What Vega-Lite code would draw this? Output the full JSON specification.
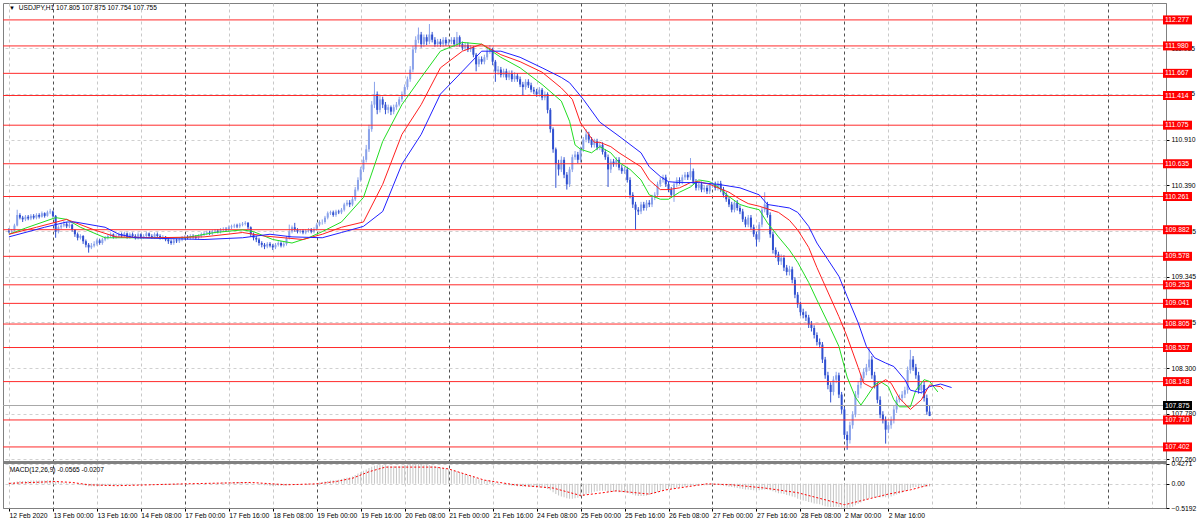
{
"$schema":"https://vega.github.io/schema/vega-lite/v6.json",
"autosize":"none",
"padding":{"left":3,"top":3,"right":34,"bottom":16},
"background":"white",
"width":1163,"height":505,
"config":{"view":{"stroke":"#808080","strokeWidth":1},"font":"Liberation Sans","axis":{"labelFont":"Liberation Sans","labelFontSize":6.8,"labelColor":"#000000","title":null}},
"datasets":{
"bars":[
{"i":0,"o":109.87,"h":109.90,"l":109.84,"c":109.86,"m":0.03},
{"i":1,"o":109.86,"h":109.89,"l":109.84,"c":109.87,"m":0.03},
{"i":2,"o":109.87,"h":109.95,"l":109.86,"c":109.93,"m":0.04},
{"i":3,"o":109.93,"h":110.11,"l":109.92,"c":110.05,"m":0.05},
{"i":4,"o":110.05,"h":110.07,"l":110.00,"c":110.02,"m":0.06},
{"i":5,"o":110.02,"h":110.04,"l":109.97,"c":110.00,"m":0.06},
{"i":6,"o":110.00,"h":110.05,"l":109.98,"c":110.03,"m":0.06},
{"i":7,"o":110.03,"h":110.05,"l":109.99,"c":110.01,"m":0.06},
{"i":8,"o":110.01,"h":110.06,"l":109.99,"c":110.04,"m":0.07},
{"i":9,"o":110.04,"h":110.06,"l":110.00,"c":110.02,"m":0.07},
{"i":10,"o":110.02,"h":110.07,"l":110.00,"c":110.05,"m":0.07},
{"i":11,"o":110.05,"h":110.07,"l":110.01,"c":110.03,"m":0.07},
{"i":12,"o":110.03,"h":110.09,"l":110.02,"c":110.07,"m":0.07},
{"i":13,"o":110.07,"h":110.08,"l":110.02,"c":110.04,"m":0.07},
{"i":14,"o":110.04,"h":110.10,"l":110.03,"c":110.08,"m":0.08},
{"i":15,"o":110.08,"h":110.12,"l":110.06,"c":110.09,"m":0.08},
{"i":16,"o":110.09,"h":110.10,"l":110.02,"c":110.04,"m":0.07},
{"i":17,"o":110.04,"h":110.05,"l":109.79,"c":109.86,"m":0.05},
{"i":18,"o":109.86,"h":109.93,"l":109.84,"c":109.91,"m":0.04},
{"i":19,"o":109.91,"h":109.96,"l":109.89,"c":109.93,"m":0.03},
{"i":20,"o":109.93,"h":109.98,"l":109.91,"c":109.95,"m":0.03},
{"i":21,"o":109.95,"h":109.97,"l":109.90,"c":109.92,"m":0.02},
{"i":22,"o":109.92,"h":109.96,"l":109.90,"c":109.94,"m":0.02},
{"i":23,"o":109.94,"h":109.95,"l":109.86,"c":109.88,"m":0.01},
{"i":24,"o":109.88,"h":109.89,"l":109.80,"c":109.83,"m":0.0},
{"i":25,"o":109.83,"h":109.85,"l":109.76,"c":109.79,"m":-0.01},
{"i":26,"o":109.79,"h":109.83,"l":109.77,"c":109.81,"m":-0.02},
{"i":27,"o":109.81,"h":109.82,"l":109.72,"c":109.75,"m":-0.03},
{"i":28,"o":109.75,"h":109.77,"l":109.68,"c":109.71,"m":-0.04},
{"i":29,"o":109.71,"h":109.73,"l":109.62,"c":109.68,"m":-0.05},
{"i":30,"o":109.68,"h":109.73,"l":109.66,"c":109.70,"m":-0.05},
{"i":31,"o":109.70,"h":109.75,"l":109.68,"c":109.72,"m":-0.05},
{"i":32,"o":109.72,"h":109.78,"l":109.70,"c":109.76,"m":-0.05},
{"i":33,"o":109.76,"h":109.78,"l":109.71,"c":109.73,"m":-0.05},
{"i":34,"o":109.73,"h":109.79,"l":109.71,"c":109.77,"m":-0.04},
{"i":35,"o":109.77,"h":109.81,"l":109.75,"c":109.79,"m":-0.04},
{"i":36,"o":109.79,"h":109.83,"l":109.77,"c":109.81,"m":-0.03},
{"i":37,"o":109.81,"h":109.85,"l":109.79,"c":109.83,"m":-0.03},
{"i":38,"o":109.83,"h":109.84,"l":109.78,"c":109.80,"m":-0.03},
{"i":39,"o":109.80,"h":109.83,"l":109.78,"c":109.81,"m":-0.02},
{"i":40,"o":109.81,"h":109.85,"l":109.79,"c":109.83,"m":-0.02},
{"i":41,"o":109.83,"h":109.85,"l":109.79,"c":109.81,"m":-0.02},
{"i":42,"o":109.81,"h":109.86,"l":109.79,"c":109.84,"m":-0.01},
{"i":43,"o":109.84,"h":109.85,"l":109.78,"c":109.80,"m":-0.01},
{"i":44,"o":109.80,"h":109.85,"l":109.78,"c":109.83,"m":-0.01},
{"i":45,"o":109.83,"h":109.85,"l":109.79,"c":109.81,"m":-0.01},
{"i":46,"o":109.81,"h":109.83,"l":109.77,"c":109.79,"m":-0.01},
{"i":47,"o":109.79,"h":109.85,"l":109.77,"c":109.83,"m":0.0},
{"i":48,"o":109.83,"h":109.84,"l":109.78,"c":109.80,"m":0.0},
{"i":49,"o":109.80,"h":109.83,"l":109.78,"c":109.81,"m":0.0},
{"i":50,"o":109.81,"h":109.86,"l":109.79,"c":109.84,"m":0.0},
{"i":51,"o":109.84,"h":109.85,"l":109.79,"c":109.81,"m":0.0},
{"i":52,"o":109.81,"h":109.83,"l":109.78,"c":109.80,"m":0.0},
{"i":53,"o":109.80,"h":109.85,"l":109.78,"c":109.83,"m":0.0},
{"i":54,"o":109.83,"h":109.85,"l":109.79,"c":109.81,"m":0.0},
{"i":55,"o":109.81,"h":109.83,"l":109.77,"c":109.79,"m":-0.01},
{"i":56,"o":109.79,"h":109.82,"l":109.77,"c":109.80,"m":-0.01},
{"i":57,"o":109.80,"h":109.81,"l":109.75,"c":109.77,"m":-0.01},
{"i":58,"o":109.77,"h":109.79,"l":109.72,"c":109.75,"m":-0.02},
{"i":59,"o":109.75,"h":109.77,"l":109.71,"c":109.73,"m":-0.02},
{"i":60,"o":109.73,"h":109.78,"l":109.71,"c":109.76,"m":-0.02},
{"i":61,"o":109.76,"h":109.78,"l":109.73,"c":109.75,"m":-0.02},
{"i":62,"o":109.75,"h":109.79,"l":109.73,"c":109.77,"m":-0.01},
{"i":63,"o":109.77,"h":109.81,"l":109.75,"c":109.79,"m":-0.01},
{"i":64,"o":109.79,"h":109.82,"l":109.77,"c":109.80,"m":0.0},
{"i":65,"o":109.80,"h":109.82,"l":109.77,"c":109.79,"m":0.0},
{"i":66,"o":109.79,"h":109.83,"l":109.77,"c":109.81,"m":0.0},
{"i":67,"o":109.81,"h":109.83,"l":109.78,"c":109.80,"m":0.0},
{"i":68,"o":109.80,"h":109.82,"l":109.77,"c":109.79,"m":0.0},
{"i":69,"o":109.79,"h":109.83,"l":109.77,"c":109.81,"m":0.0},
{"i":70,"o":109.81,"h":109.85,"l":109.79,"c":109.83,"m":0.01},
{"i":71,"o":109.83,"h":109.86,"l":109.81,"c":109.84,"m":0.01},
{"i":72,"o":109.84,"h":109.87,"l":109.82,"c":109.85,"m":0.01},
{"i":73,"o":109.85,"h":109.87,"l":109.82,"c":109.84,"m":0.01},
{"i":74,"o":109.84,"h":109.88,"l":109.82,"c":109.86,"m":0.02},
{"i":75,"o":109.86,"h":109.89,"l":109.84,"c":109.87,"m":0.02},
{"i":76,"o":109.87,"h":109.89,"l":109.84,"c":109.86,"m":0.02},
{"i":77,"o":109.86,"h":109.90,"l":109.84,"c":109.88,"m":0.02},
{"i":78,"o":109.88,"h":109.91,"l":109.86,"c":109.89,"m":0.03},
{"i":79,"o":109.89,"h":109.91,"l":109.86,"c":109.88,"m":0.03},
{"i":80,"o":109.88,"h":109.93,"l":109.86,"c":109.91,"m":0.03},
{"i":81,"o":109.91,"h":109.94,"l":109.89,"c":109.92,"m":0.03},
{"i":82,"o":109.92,"h":109.95,"l":109.90,"c":109.93,"m":0.04},
{"i":83,"o":109.93,"h":109.95,"l":109.90,"c":109.92,"m":0.04},
{"i":84,"o":109.92,"h":109.96,"l":109.90,"c":109.94,"m":0.04},
{"i":85,"o":109.94,"h":109.97,"l":109.92,"c":109.95,"m":0.04},
{"i":86,"o":109.95,"h":109.98,"l":109.93,"c":109.96,"m":0.04},
{"i":87,"o":109.96,"h":109.97,"l":109.89,"c":109.91,"m":0.03},
{"i":88,"o":109.91,"h":109.92,"l":109.80,"c":109.83,"m":0.02},
{"i":89,"o":109.83,"h":109.85,"l":109.76,"c":109.79,"m":0.01},
{"i":90,"o":109.79,"h":109.81,"l":109.74,"c":109.77,"m":0.0},
{"i":91,"o":109.77,"h":109.79,"l":109.70,"c":109.73,"m":-0.01},
{"i":92,"o":109.73,"h":109.75,"l":109.68,"c":109.71,"m":-0.02},
{"i":93,"o":109.71,"h":109.73,"l":109.66,"c":109.69,"m":-0.03},
{"i":94,"o":109.69,"h":109.74,"l":109.67,"c":109.72,"m":-0.03},
{"i":95,"o":109.72,"h":109.74,"l":109.68,"c":109.70,"m":-0.04},
{"i":96,"o":109.70,"h":109.72,"l":109.65,"c":109.68,"m":-0.04},
{"i":97,"o":109.68,"h":109.73,"l":109.66,"c":109.71,"m":-0.04},
{"i":98,"o":109.71,"h":109.75,"l":109.69,"c":109.73,"m":-0.04},
{"i":99,"o":109.73,"h":109.75,"l":109.68,"c":109.70,"m":-0.04},
{"i":100,"o":109.70,"h":109.74,"l":109.68,"c":109.72,"m":-0.04},
{"i":101,"o":109.72,"h":109.81,"l":109.70,"c":109.79,"m":-0.03},
{"i":102,"o":109.79,"h":109.94,"l":109.77,"c":109.86,"m":-0.02},
{"i":103,"o":109.86,"h":109.93,"l":109.84,"c":109.91,"m":-0.01},
{"i":104,"o":109.91,"h":109.96,"l":109.86,"c":109.88,"m":0.0},
{"i":105,"o":109.88,"h":109.90,"l":109.84,"c":109.86,"m":0.0},
{"i":106,"o":109.86,"h":109.89,"l":109.84,"c":109.87,"m":0.0},
{"i":107,"o":109.87,"h":109.89,"l":109.83,"c":109.85,"m":0.0},
{"i":108,"o":109.85,"h":109.89,"l":109.83,"c":109.87,"m":0.01},
{"i":109,"o":109.87,"h":109.90,"l":109.85,"c":109.88,"m":0.01},
{"i":110,"o":109.88,"h":109.90,"l":109.84,"c":109.86,"m":0.01},
{"i":111,"o":109.86,"h":109.91,"l":109.84,"c":109.89,"m":0.01},
{"i":112,"o":109.89,"h":109.96,"l":109.87,"c":109.94,"m":0.02},
{"i":113,"o":109.94,"h":109.99,"l":109.92,"c":109.97,"m":0.03},
{"i":114,"o":109.97,"h":110.00,"l":109.94,"c":109.97,"m":0.04},
{"i":115,"o":109.97,"h":110.04,"l":109.95,"c":110.02,"m":0.05},
{"i":116,"o":110.02,"h":110.09,"l":110.00,"c":110.07,"m":0.06},
{"i":117,"o":110.07,"h":110.10,"l":110.05,"c":110.08,"m":0.07},
{"i":118,"o":110.08,"h":110.10,"l":110.03,"c":110.05,"m":0.08},
{"i":119,"o":110.05,"h":110.11,"l":110.03,"c":110.09,"m":0.08},
{"i":120,"o":110.09,"h":110.11,"l":110.06,"c":110.08,"m":0.09},
{"i":121,"o":110.08,"h":110.13,"l":110.06,"c":110.11,"m":0.10},
{"i":122,"o":110.11,"h":110.19,"l":110.09,"c":110.17,"m":0.12},
{"i":123,"o":110.17,"h":110.22,"l":110.15,"c":110.19,"m":0.13},
{"i":124,"o":110.19,"h":110.22,"l":110.14,"c":110.17,"m":0.14},
{"i":125,"o":110.17,"h":110.26,"l":110.15,"c":110.23,"m":0.16},
{"i":126,"o":110.23,"h":110.37,"l":110.21,"c":110.34,"m":0.19},
{"i":127,"o":110.34,"h":110.48,"l":110.32,"c":110.45,"m":0.22},
{"i":128,"o":110.45,"h":110.60,"l":110.43,"c":110.57,"m":0.25},
{"i":129,"o":110.57,"h":110.72,"l":110.54,"c":110.68,"m":0.28},
{"i":130,"o":110.68,"h":110.85,"l":110.65,"c":110.80,"m":0.31},
{"i":131,"o":110.80,"h":111.08,"l":110.77,"c":111.03,"m":0.34},
{"i":132,"o":111.03,"h":111.35,"l":111.00,"c":111.31,"m":0.37},
{"i":133,"o":111.31,"h":111.57,"l":111.27,"c":111.43,"m":0.39},
{"i":134,"o":111.43,"h":111.46,"l":111.20,"c":111.25,"m":0.40},
{"i":135,"o":111.25,"h":111.41,"l":111.22,"c":111.37,"m":0.40},
{"i":136,"o":111.37,"h":111.40,"l":111.27,"c":111.31,"m":0.40},
{"i":137,"o":111.31,"h":111.34,"l":111.20,"c":111.25,"m":0.40},
{"i":138,"o":111.25,"h":111.31,"l":111.21,"c":111.28,"m":0.39},
{"i":139,"o":111.28,"h":111.30,"l":111.19,"c":111.23,"m":0.38},
{"i":140,"o":111.23,"h":111.31,"l":111.20,"c":111.28,"m":0.38},
{"i":141,"o":111.28,"h":111.34,"l":111.25,"c":111.31,"m":0.38},
{"i":142,"o":111.31,"h":111.40,"l":111.29,"c":111.37,"m":0.38},
{"i":143,"o":111.37,"h":111.46,"l":111.34,"c":111.43,"m":0.39},
{"i":144,"o":111.43,"h":111.54,"l":111.40,"c":111.51,"m":0.40},
{"i":145,"o":111.51,"h":111.63,"l":111.48,"c":111.60,"m":0.41},
{"i":146,"o":111.60,"h":111.75,"l":111.57,"c":111.71,"m":0.42},
{"i":147,"o":111.71,"h":111.98,"l":111.68,"c":111.94,"m":0.43},
{"i":148,"o":111.94,"h":112.09,"l":111.90,"c":112.05,"m":0.43},
{"i":149,"o":112.05,"h":112.19,"l":112.01,"c":112.11,"m":0.43},
{"i":150,"o":112.11,"h":112.14,"l":111.96,"c":112.00,"m":0.42},
{"i":151,"o":112.00,"h":112.11,"l":111.97,"c":112.08,"m":0.42},
{"i":152,"o":112.08,"h":112.11,"l":111.99,"c":112.03,"m":0.41},
{"i":153,"o":112.03,"h":112.23,"l":112.00,"c":112.11,"m":0.40},
{"i":154,"o":112.11,"h":112.14,"l":112.02,"c":112.05,"m":0.39},
{"i":155,"o":112.05,"h":112.08,"l":111.97,"c":112.00,"m":0.38},
{"i":156,"o":112.00,"h":112.06,"l":111.97,"c":112.03,"m":0.37},
{"i":157,"o":112.03,"h":112.06,"l":111.97,"c":112.00,"m":0.35},
{"i":158,"o":112.00,"h":112.08,"l":111.97,"c":112.05,"m":0.34},
{"i":159,"o":112.05,"h":112.08,"l":111.98,"c":112.01,"m":0.33},
{"i":160,"o":112.01,"h":112.06,"l":111.98,"c":112.03,"m":0.31},
{"i":161,"o":112.03,"h":112.08,"l":112.00,"c":112.05,"m":0.30},
{"i":162,"o":112.05,"h":112.08,"l":111.97,"c":112.00,"m":0.28},
{"i":163,"o":112.00,"h":112.14,"l":111.97,"c":112.08,"m":0.27},
{"i":164,"o":112.08,"h":112.10,"l":111.97,"c":112.00,"m":0.25},
{"i":165,"o":112.00,"h":112.03,"l":111.93,"c":111.96,"m":0.23},
{"i":166,"o":111.96,"h":112.02,"l":111.93,"c":111.99,"m":0.21},
{"i":167,"o":111.99,"h":112.02,"l":111.91,"c":111.94,"m":0.19},
{"i":168,"o":111.94,"h":111.99,"l":111.91,"c":111.96,"m":0.17},
{"i":169,"o":111.96,"h":111.98,"l":111.85,"c":111.88,"m":0.15},
{"i":170,"o":111.88,"h":111.90,"l":111.69,"c":111.77,"m":0.12},
{"i":171,"o":111.77,"h":111.86,"l":111.74,"c":111.83,"m":0.10},
{"i":172,"o":111.83,"h":111.86,"l":111.77,"c":111.80,"m":0.09},
{"i":173,"o":111.80,"h":111.88,"l":111.77,"c":111.85,"m":0.08},
{"i":174,"o":111.85,"h":111.95,"l":111.82,"c":111.92,"m":0.08},
{"i":175,"o":111.92,"h":111.99,"l":111.89,"c":111.94,"m":0.07},
{"i":176,"o":111.94,"h":111.96,"l":111.76,"c":111.80,"m":0.05},
{"i":177,"o":111.80,"h":111.82,"l":111.57,"c":111.69,"m":0.03},
{"i":178,"o":111.69,"h":111.75,"l":111.65,"c":111.71,"m":0.02},
{"i":179,"o":111.71,"h":111.74,"l":111.62,"c":111.65,"m":0.0},
{"i":180,"o":111.65,"h":111.72,"l":111.62,"c":111.69,"m":-0.01},
{"i":181,"o":111.69,"h":111.72,"l":111.59,"c":111.62,"m":-0.02},
{"i":182,"o":111.62,"h":111.70,"l":111.59,"c":111.67,"m":-0.03},
{"i":183,"o":111.67,"h":111.70,"l":111.57,"c":111.60,"m":-0.04},
{"i":184,"o":111.60,"h":111.68,"l":111.57,"c":111.64,"m":-0.04},
{"i":185,"o":111.64,"h":111.67,"l":111.57,"c":111.60,"m":-0.05},
{"i":186,"o":111.60,"h":111.63,"l":111.51,"c":111.54,"m":-0.05},
{"i":187,"o":111.54,"h":111.57,"l":111.42,"c":111.51,"m":-0.06},
{"i":188,"o":111.51,"h":111.60,"l":111.48,"c":111.57,"m":-0.06},
{"i":189,"o":111.57,"h":111.60,"l":111.50,"c":111.53,"m":-0.06},
{"i":190,"o":111.53,"h":111.56,"l":111.45,"c":111.48,"m":-0.07},
{"i":191,"o":111.48,"h":111.51,"l":111.43,"c":111.46,"m":-0.07},
{"i":192,"o":111.46,"h":111.49,"l":111.40,"c":111.43,"m":-0.08},
{"i":193,"o":111.43,"h":111.51,"l":111.40,"c":111.48,"m":-0.08},
{"i":194,"o":111.48,"h":111.50,"l":111.36,"c":111.39,"m":-0.08},
{"i":195,"o":111.39,"h":111.46,"l":111.36,"c":111.43,"m":-0.09},
{"i":196,"o":111.43,"h":111.45,"l":111.21,"c":111.25,"m":-0.11},
{"i":197,"o":111.25,"h":111.27,"l":110.99,"c":111.03,"m":-0.14},
{"i":198,"o":111.03,"h":111.05,"l":110.76,"c":110.80,"m":-0.18},
{"i":199,"o":110.80,"h":110.82,"l":110.36,"c":110.63,"m":-0.22},
{"i":200,"o":110.63,"h":110.68,"l":110.50,"c":110.57,"m":-0.25},
{"i":201,"o":110.57,"h":110.72,"l":110.54,"c":110.68,"m":-0.27},
{"i":202,"o":110.68,"h":110.71,"l":110.47,"c":110.51,"m":-0.29},
{"i":203,"o":110.51,"h":110.54,"l":110.34,"c":110.40,"m":-0.31},
{"i":204,"o":110.40,"h":110.60,"l":110.37,"c":110.57,"m":-0.32},
{"i":205,"o":110.57,"h":110.74,"l":110.54,"c":110.71,"m":-0.32},
{"i":206,"o":110.71,"h":110.78,"l":110.68,"c":110.74,"m":-0.31},
{"i":207,"o":110.74,"h":110.77,"l":110.64,"c":110.68,"m":-0.30},
{"i":208,"o":110.68,"h":110.83,"l":110.65,"c":110.80,"m":-0.28},
{"i":209,"o":110.80,"h":110.94,"l":110.77,"c":110.91,"m":-0.26},
{"i":210,"o":110.91,"h":111.03,"l":110.88,"c":110.97,"m":-0.23},
{"i":211,"o":110.97,"h":111.00,"l":110.87,"c":110.91,"m":-0.21},
{"i":212,"o":110.91,"h":110.94,"l":110.82,"c":110.85,"m":-0.19},
{"i":213,"o":110.85,"h":110.92,"l":110.82,"c":110.89,"m":-0.17},
{"i":214,"o":110.89,"h":110.92,"l":110.79,"c":110.82,"m":-0.16},
{"i":215,"o":110.82,"h":110.88,"l":110.79,"c":110.85,"m":-0.15},
{"i":216,"o":110.85,"h":110.88,"l":110.74,"c":110.77,"m":-0.15},
{"i":217,"o":110.77,"h":110.80,"l":110.68,"c":110.71,"m":-0.15},
{"i":218,"o":110.71,"h":110.74,"l":110.37,"c":110.57,"m":-0.17},
{"i":219,"o":110.57,"h":110.69,"l":110.53,"c":110.66,"m":-0.17},
{"i":220,"o":110.66,"h":110.69,"l":110.60,"c":110.63,"m":-0.17},
{"i":221,"o":110.63,"h":110.71,"l":110.60,"c":110.68,"m":-0.17},
{"i":222,"o":110.68,"h":110.71,"l":110.56,"c":110.59,"m":-0.18},
{"i":223,"o":110.59,"h":110.62,"l":110.52,"c":110.55,"m":-0.18},
{"i":224,"o":110.55,"h":110.60,"l":110.52,"c":110.57,"m":-0.18},
{"i":225,"o":110.57,"h":110.60,"l":110.42,"c":110.45,"m":-0.19},
{"i":226,"o":110.45,"h":110.48,"l":110.24,"c":110.28,"m":-0.21},
{"i":227,"o":110.28,"h":110.31,"l":110.13,"c":110.17,"m":-0.23},
{"i":228,"o":110.17,"h":110.20,"l":109.88,"c":110.11,"m":-0.25},
{"i":229,"o":110.11,"h":110.14,"l":110.05,"c":110.09,"m":-0.26},
{"i":230,"o":110.09,"h":110.20,"l":110.06,"c":110.17,"m":-0.26},
{"i":231,"o":110.17,"h":110.20,"l":110.10,"c":110.13,"m":-0.26},
{"i":232,"o":110.13,"h":110.22,"l":110.10,"c":110.19,"m":-0.25},
{"i":233,"o":110.19,"h":110.22,"l":110.14,"c":110.17,"m":-0.24},
{"i":234,"o":110.17,"h":110.28,"l":110.14,"c":110.25,"m":-0.22},
{"i":235,"o":110.25,"h":110.31,"l":110.22,"c":110.28,"m":-0.20},
{"i":236,"o":110.28,"h":110.43,"l":110.25,"c":110.40,"m":-0.17},
{"i":237,"o":110.40,"h":110.48,"l":110.37,"c":110.45,"m":-0.15},
{"i":238,"o":110.45,"h":110.51,"l":110.42,"c":110.48,"m":-0.13},
{"i":239,"o":110.48,"h":110.51,"l":110.37,"c":110.40,"m":-0.12},
{"i":240,"o":110.40,"h":110.43,"l":110.31,"c":110.34,"m":-0.11},
{"i":241,"o":110.34,"h":110.37,"l":110.25,"c":110.28,"m":-0.11},
{"i":242,"o":110.28,"h":110.43,"l":110.20,"c":110.40,"m":-0.10},
{"i":243,"o":110.40,"h":110.48,"l":110.37,"c":110.45,"m":-0.09},
{"i":244,"o":110.45,"h":110.48,"l":110.40,"c":110.43,"m":-0.08},
{"i":245,"o":110.43,"h":110.51,"l":110.40,"c":110.48,"m":-0.07},
{"i":246,"o":110.48,"h":110.54,"l":110.45,"c":110.51,"m":-0.06},
{"i":247,"o":110.51,"h":110.54,"l":110.45,"c":110.48,"m":-0.05},
{"i":248,"o":110.48,"h":110.70,"l":110.45,"c":110.55,"m":-0.04},
{"i":249,"o":110.55,"h":110.58,"l":110.40,"c":110.43,"m":-0.04},
{"i":250,"o":110.43,"h":110.46,"l":110.33,"c":110.36,"m":-0.04},
{"i":251,"o":110.36,"h":110.43,"l":110.33,"c":110.40,"m":-0.03},
{"i":252,"o":110.40,"h":110.43,"l":110.31,"c":110.34,"m":-0.03},
{"i":253,"o":110.34,"h":110.39,"l":110.31,"c":110.36,"m":-0.03},
{"i":254,"o":110.36,"h":110.39,"l":110.29,"c":110.32,"m":-0.03},
{"i":255,"o":110.32,"h":110.42,"l":110.29,"c":110.39,"m":-0.02},
{"i":256,"o":110.39,"h":110.43,"l":110.36,"c":110.40,"m":-0.02},
{"i":257,"o":110.40,"h":110.43,"l":110.33,"c":110.36,"m":-0.02},
{"i":258,"o":110.36,"h":110.44,"l":110.33,"c":110.41,"m":-0.02},
{"i":259,"o":110.41,"h":110.44,"l":110.31,"c":110.34,"m":-0.03},
{"i":260,"o":110.34,"h":110.37,"l":110.25,"c":110.28,"m":-0.04},
{"i":261,"o":110.28,"h":110.31,"l":110.20,"c":110.23,"m":-0.05},
{"i":262,"o":110.23,"h":110.26,"l":110.14,"c":110.17,"m":-0.06},
{"i":263,"o":110.17,"h":110.20,"l":110.08,"c":110.11,"m":-0.07},
{"i":264,"o":110.11,"h":110.22,"l":110.08,"c":110.19,"m":-0.08},
{"i":265,"o":110.19,"h":110.22,"l":110.10,"c":110.13,"m":-0.09},
{"i":266,"o":110.13,"h":110.16,"l":110.06,"c":110.09,"m":-0.10},
{"i":267,"o":110.09,"h":110.12,"l":109.97,"c":110.00,"m":-0.11},
{"i":268,"o":110.00,"h":110.03,"l":109.91,"c":109.94,"m":-0.12},
{"i":269,"o":109.94,"h":110.05,"l":109.91,"c":110.02,"m":-0.12},
{"i":270,"o":110.02,"h":110.05,"l":109.88,"c":109.91,"m":-0.13},
{"i":271,"o":109.91,"h":109.94,"l":109.80,"c":109.83,"m":-0.14},
{"i":272,"o":109.83,"h":109.86,"l":109.69,"c":109.77,"m":-0.15},
{"i":273,"o":109.77,"h":109.97,"l":109.74,"c":109.94,"m":-0.14},
{"i":274,"o":109.94,"h":110.14,"l":109.91,"c":110.11,"m":-0.13},
{"i":275,"o":110.11,"h":110.31,"l":110.08,"c":110.17,"m":-0.12},
{"i":276,"o":110.17,"h":110.20,"l":110.02,"c":110.05,"m":-0.12},
{"i":277,"o":110.05,"h":110.08,"l":109.79,"c":109.83,"m":-0.14},
{"i":278,"o":109.83,"h":109.86,"l":109.61,"c":109.65,"m":-0.16},
{"i":279,"o":109.65,"h":109.68,"l":109.56,"c":109.60,"m":-0.18},
{"i":280,"o":109.60,"h":109.63,"l":109.48,"c":109.52,"m":-0.20},
{"i":281,"o":109.52,"h":109.60,"l":109.48,"c":109.56,"m":-0.21},
{"i":282,"o":109.56,"h":109.59,"l":109.41,"c":109.45,"m":-0.22},
{"i":283,"o":109.45,"h":109.48,"l":109.36,"c":109.40,"m":-0.24},
{"i":284,"o":109.40,"h":109.47,"l":109.36,"c":109.43,"m":-0.25},
{"i":285,"o":109.43,"h":109.46,"l":109.27,"c":109.31,"m":-0.27},
{"i":286,"o":109.31,"h":109.34,"l":109.10,"c":109.14,"m":-0.29},
{"i":287,"o":109.14,"h":109.17,"l":108.99,"c":109.03,"m":-0.32},
{"i":288,"o":109.03,"h":109.06,"l":108.90,"c":108.94,"m":-0.34},
{"i":289,"o":108.94,"h":108.98,"l":108.87,"c":108.91,"m":-0.36},
{"i":290,"o":108.91,"h":108.95,"l":108.84,"c":108.88,"m":-0.37},
{"i":291,"o":108.88,"h":108.91,"l":108.76,"c":108.80,"m":-0.39},
{"i":292,"o":108.80,"h":108.84,"l":108.72,"c":108.76,"m":-0.40},
{"i":293,"o":108.76,"h":108.79,"l":108.64,"c":108.68,"m":-0.42},
{"i":294,"o":108.68,"h":108.71,"l":108.56,"c":108.60,"m":-0.43},
{"i":295,"o":108.60,"h":108.64,"l":108.53,"c":108.57,"m":-0.44},
{"i":296,"o":108.57,"h":108.60,"l":108.36,"c":108.40,"m":-0.46},
{"i":297,"o":108.40,"h":108.43,"l":108.18,"c":108.22,"m":-0.48},
{"i":298,"o":108.22,"h":108.26,"l":108.06,"c":108.11,"m":-0.49},
{"i":299,"o":108.11,"h":108.14,"l":107.91,"c":108.03,"m":-0.50},
{"i":300,"o":108.03,"h":108.21,"l":107.99,"c":108.17,"m":-0.50},
{"i":301,"o":108.17,"h":108.26,"l":108.13,"c":108.22,"m":-0.49},
{"i":302,"o":108.22,"h":108.25,"l":107.96,"c":108.00,"m":-0.50},
{"i":303,"o":108.00,"h":108.03,"l":107.78,"c":107.83,"m":-0.51},
{"i":304,"o":107.83,"h":107.86,"l":107.49,"c":107.54,"m":-0.52},
{"i":305,"o":107.54,"h":107.58,"l":107.37,"c":107.48,"m":-0.52},
{"i":306,"o":107.48,"h":107.69,"l":107.44,"c":107.65,"m":-0.51},
{"i":307,"o":107.65,"h":107.81,"l":107.61,"c":107.77,"m":-0.49},
{"i":308,"o":107.77,"h":108.04,"l":107.74,"c":108.00,"m":-0.46},
{"i":309,"o":108.00,"h":108.15,"l":107.96,"c":108.11,"m":-0.43},
{"i":310,"o":108.11,"h":108.23,"l":108.07,"c":108.19,"m":-0.40},
{"i":311,"o":108.19,"h":108.30,"l":108.15,"c":108.26,"m":-0.37},
{"i":312,"o":108.26,"h":108.35,"l":108.22,"c":108.31,"m":-0.34},
{"i":313,"o":108.31,"h":108.54,"l":108.27,"c":108.40,"m":-0.31},
{"i":314,"o":108.40,"h":108.44,"l":108.18,"c":108.22,"m":-0.30},
{"i":315,"o":108.22,"h":108.26,"l":108.07,"c":108.11,"m":-0.29},
{"i":316,"o":108.11,"h":108.14,"l":107.90,"c":107.94,"m":-0.29},
{"i":317,"o":107.94,"h":107.98,"l":107.73,"c":107.77,"m":-0.29},
{"i":318,"o":107.77,"h":107.81,"l":107.67,"c":107.71,"m":-0.29},
{"i":319,"o":107.71,"h":107.75,"l":107.44,"c":107.60,"m":-0.29},
{"i":320,"o":107.60,"h":107.69,"l":107.56,"c":107.65,"m":-0.28},
{"i":321,"o":107.65,"h":107.75,"l":107.61,"c":107.71,"m":-0.27},
{"i":322,"o":107.71,"h":107.87,"l":107.67,"c":107.83,"m":-0.25},
{"i":323,"o":107.83,"h":107.98,"l":107.79,"c":107.94,"m":-0.23},
{"i":324,"o":107.94,"h":108.00,"l":107.91,"c":107.96,"m":-0.21},
{"i":325,"o":107.96,"h":108.04,"l":107.92,"c":108.00,"m":-0.19},
{"i":326,"o":108.00,"h":108.09,"l":107.96,"c":108.05,"m":-0.16},
{"i":327,"o":108.05,"h":108.32,"l":108.01,"c":108.28,"m":-0.13},
{"i":328,"o":108.28,"h":108.51,"l":108.24,"c":108.40,"m":-0.10},
{"i":329,"o":108.40,"h":108.44,"l":108.27,"c":108.31,"m":-0.08},
{"i":330,"o":108.31,"h":108.35,"l":108.18,"c":108.22,"m":-0.07},
{"i":331,"o":108.22,"h":108.26,"l":108.01,"c":108.05,"m":-0.07},
{"i":332,"o":108.05,"h":108.15,"l":108.01,"c":108.11,"m":-0.06},
{"i":333,"o":108.11,"h":108.15,"l":107.92,"c":107.96,"m":-0.06},
{"i":334,"o":107.96,"h":108.00,"l":107.77,"c":107.805,"m":-0.06},
{"i":335,"o":107.805,"h":107.875,"l":107.754,"c":107.755,"m":-0.0565}
],
"levels":[{"v":112.277},{"v":111.98},{"v":111.667},{"v":111.414},{"v":111.075},{"v":110.635},{"v":110.261},{"v":109.882},{"v":109.578},{"v":109.253},{"v":109.041},{"v":108.805},{"v":108.537},{"v":108.148},{"v":107.71},{"v":107.402}],
"green":[{"i":0,"v":109.83},{"i":6,"v":109.90},{"i":17,"v":110.02},{"i":21,"v":110.00},{"i":26,"v":109.91},{"i":35,"v":109.79},{"i":42,"v":109.79},{"i":53,"v":109.79},{"i":64,"v":109.79},{"i":75,"v":109.85},{"i":85,"v":109.88},{"i":89,"v":109.86},{"i":96,"v":109.77},{"i":103,"v":109.73},{"i":109,"v":109.79},{"i":114,"v":109.86},{"i":121,"v":109.97},{"i":129,"v":110.25},{"i":136,"v":110.89},{"i":143,"v":111.31},{"i":150,"v":111.62},{"i":157,"v":111.92},{"i":165,"v":112.02},{"i":172,"v":112.00},{"i":179,"v":111.85},{"i":186,"v":111.73},{"i":194,"v":111.54},{"i":201,"v":111.35},{"i":204,"v":111.12},{"i":206,"v":110.85},{"i":208,"v":110.80},{"i":212,"v":110.76},{"i":215,"v":110.83},{"i":219,"v":110.76},{"i":222,"v":110.65},{"i":226,"v":110.57},{"i":230,"v":110.45},{"i":233,"v":110.28},{"i":237,"v":110.23},{"i":240,"v":110.23},{"i":244,"v":110.31},{"i":248,"v":110.37},{"i":251,"v":110.45},{"i":255,"v":110.43},{"i":258,"v":110.37},{"i":262,"v":110.26},{"i":266,"v":110.17},{"i":269,"v":110.14},{"i":273,"v":110.11},{"i":276,"v":109.96},{"i":280,"v":109.80},{"i":284,"v":109.65},{"i":287,"v":109.51},{"i":291,"v":109.28},{"i":294,"v":109.08},{"i":298,"v":108.82},{"i":302,"v":108.55},{"i":305,"v":108.20},{"i":308,"v":107.97},{"i":310,"v":107.88},{"i":312,"v":107.97},{"i":315,"v":108.11},{"i":317,"v":108.15},{"i":320,"v":108.09},{"i":322,"v":107.94},{"i":324,"v":107.86},{"i":328,"v":107.86},{"i":330,"v":108.05},{"i":333,"v":108.17},{"i":335,"v":108.15},{"i":338,"v":108.03}],
"red":[{"i":0,"v":109.83},{"i":10,"v":109.91},{"i":21,"v":110.00},{"i":31,"v":109.88},{"i":39,"v":109.80},{"i":53,"v":109.79},{"i":71,"v":109.80},{"i":85,"v":109.85},{"i":93,"v":109.81},{"i":107,"v":109.77},{"i":114,"v":109.83},{"i":121,"v":109.91},{"i":129,"v":109.97},{"i":136,"v":110.40},{"i":143,"v":110.97},{"i":150,"v":111.31},{"i":157,"v":111.73},{"i":165,"v":111.92},{"i":172,"v":112.00},{"i":179,"v":111.88},{"i":186,"v":111.80},{"i":194,"v":111.68},{"i":201,"v":111.50},{"i":205,"v":111.37},{"i":208,"v":111.10},{"i":213,"v":110.88},{"i":215,"v":110.88},{"i":219,"v":110.83},{"i":222,"v":110.76},{"i":226,"v":110.68},{"i":230,"v":110.60},{"i":233,"v":110.45},{"i":237,"v":110.34},{"i":240,"v":110.34},{"i":244,"v":110.36},{"i":248,"v":110.42},{"i":251,"v":110.43},{"i":255,"v":110.40},{"i":258,"v":110.36},{"i":262,"v":110.31},{"i":266,"v":110.23},{"i":269,"v":110.18},{"i":273,"v":110.15},{"i":280,"v":110.08},{"i":284,"v":109.99},{"i":287,"v":109.88},{"i":291,"v":109.68},{"i":294,"v":109.45},{"i":298,"v":109.17},{"i":302,"v":108.89},{"i":305,"v":108.66},{"i":309,"v":108.31},{"i":311,"v":108.13},{"i":314,"v":108.08},{"i":316,"v":108.11},{"i":319,"v":108.17},{"i":321,"v":108.13},{"i":324,"v":107.96},{"i":328,"v":107.83},{"i":332,"v":107.94},{"i":335,"v":108.11},{"i":339,"v":108.09},{"i":340,"v":108.06}],
"blue":[{"i":0,"v":109.80},{"i":13,"v":109.91},{"i":21,"v":109.97},{"i":24,"v":109.97},{"i":35,"v":109.91},{"i":40,"v":109.83},{"i":46,"v":109.79},{"i":71,"v":109.77},{"i":85,"v":109.79},{"i":95,"v":109.83},{"i":103,"v":109.80},{"i":114,"v":109.79},{"i":121,"v":109.85},{"i":129,"v":109.92},{"i":136,"v":110.09},{"i":143,"v":110.63},{"i":150,"v":110.97},{"i":157,"v":111.43},{"i":165,"v":111.69},{"i":172,"v":111.92},{"i":179,"v":111.92},{"i":186,"v":111.85},{"i":194,"v":111.73},{"i":201,"v":111.62},{"i":204,"v":111.56},{"i":209,"v":111.37},{"i":215,"v":111.11},{"i":222,"v":110.95},{"i":230,"v":110.76},{"i":233,"v":110.60},{"i":237,"v":110.49},{"i":240,"v":110.43},{"i":244,"v":110.42},{"i":251,"v":110.42},{"i":258,"v":110.40},{"i":266,"v":110.36},{"i":273,"v":110.28},{"i":276,"v":110.17},{"i":280,"v":110.15},{"i":284,"v":110.13},{"i":287,"v":110.08},{"i":291,"v":109.92},{"i":294,"v":109.73},{"i":298,"v":109.54},{"i":302,"v":109.35},{"i":305,"v":109.12},{"i":309,"v":108.82},{"i":312,"v":108.55},{"i":315,"v":108.42},{"i":319,"v":108.36},{"i":322,"v":108.32},{"i":326,"v":108.17},{"i":328,"v":108.05},{"i":332,"v":108.02},{"i":335,"v":108.09},{"i":339,"v":108.12},{"i":343,"v":108.08}],
"signal":[{"i":0,"s":0.01},{"i":17,"s":0.05},{"i":23,"s":0.03},{"i":29,"s":-0.02},{"i":39,"s":-0.04},{"i":64,"s":0.0},{"i":88,"s":0.03},{"i":101,"s":-0.02},{"i":112,"s":0.0},{"i":119,"s":0.05},{"i":125,"s":0.12},{"i":131,"s":0.26},{"i":137,"s":0.36},{"i":143,"s":0.36},{"i":155,"s":0.36},{"i":160,"s":0.32},{"i":173,"s":0.08},{"i":184,"s":-0.02},{"i":198,"s":-0.09},{"i":208,"s":-0.25},{"i":215,"s":-0.20},{"i":221,"s":-0.15},{"i":233,"s":-0.22},{"i":239,"s":-0.13},{"i":254,"s":0.0},{"i":263,"s":-0.02},{"i":275,"s":-0.09},{"i":287,"s":-0.19},{"i":304,"s":-0.45},{"i":311,"s":-0.35},{"i":320,"s":-0.22},{"i":328,"s":-0.13},{"i":335,"s":-0.0207}]
},
"resolve":{"scale":{"y":"independent"},"axis":{"y":"independent"}},
"layer":[
{"layer":[
{"data":{"name":"bars"},"mark":{"type":"rule","strokeWidth":1},
 "encoding":{
  "x":{"field":"i","type":"quantitative","scale":{"domain":[-0.34,419.2],"nice":false,"zero":false},
   "axis":{"values":[0,8,16,24,32,40,48,56,64,72,80,88,96,104,112,120,128,136,144,152,160,168,176,184,192,200,208,216,224,232,240,248,256,264,272,280,288,296,304,312,320,328,336,344,352,360,368,376,384,392,400,408,416],
   "labelExpr":"datum.value==0?'12 Feb 2020':datum.value==16?'13 Feb 00:00':datum.value==32?'13 Feb 16:00':datum.value==48?'14 Feb 08:00':datum.value==64?'17 Feb 00:00':datum.value==80?'17 Feb 16:00':datum.value==96?'18 Feb 08:00':datum.value==112?'19 Feb 00:00':datum.value==128?'19 Feb 16:00':datum.value==144?'20 Feb 08:00':datum.value==160?'21 Feb 00:00':datum.value==176?'21 Feb 16:00':datum.value==192?'24 Feb 08:00':datum.value==208?'25 Feb 00:00':datum.value==224?'25 Feb 16:00':datum.value==240?'26 Feb 08:00':datum.value==256?'27 Feb 00:00':datum.value==272?'27 Feb 16:00':datum.value==288?'28 Feb 08:00':datum.value==304?'2 Mar 00:00':datum.value==320?'2 Mar 16:00':''",
   "labelAlign":"left","labelOverlap":false,"labelBound":false,"labelFlush":false,"labelPadding":1,
   "tickSize":3,"tickColor":{"condition":{"test":"datum.value%16==0 && datum.value<=320","value":"#000000"},"value":"#ffffff"},
   "domain":true,"domainColor":"#808080","grid":true,
   "gridColor":{"condition":{"test":"(datum.value-16)%24==0","value":"#505050"},"value":"#c8c8c8"},"gridDash":[3,3]}},
  "y":{"field":"l","type":"quantitative","scale":{"domain":[106.705,112.47],"nice":false,"zero":false},
   "axis":{"orient":"right","values":[112.215,111.955,111.695,111.435,111.175,110.91,110.65,110.39,110.13,109.865,109.605,109.345,109.085,108.825,108.56,108.3,108.04,107.78,107.52,107.26],"format":".3f","grid":true,"gridColor":"#d0d0d0","gridDash":[3,3],"tickSize":3,"tickColor":"#000000","domainColor":"#808080","labelPadding":2}},
  "y2":{"field":"h"},
  "color":{"condition":{"test":"datum.c>=datum.o","value":"#8aa2ea"},"value":"#3050d0"}}},
{"data":{"name":"bars"},"mark":{"type":"bar"},
 "encoding":{"x":{"field":"i","type":"quantitative"},"y":{"field":"o","type":"quantitative"},"y2":{"field":"c"},"size":{"value":2},
  "color":{"condition":{"test":"datum.c>=datum.o","value":"#8aa2ea"},"value":"#3050d0"}}},
{"data":{"name":"levels"},"mark":{"type":"rule","color":"#ff2a2a","strokeWidth":1},"encoding":{"y":{"field":"v","type":"quantitative"}}},
{"data":{"values":[{"v":107.875}]},"mark":{"type":"rule","color":"#a8a8a8","strokeWidth":1},"encoding":{"y":{"field":"v","type":"quantitative"}}},
{"data":{"values":[{"v":107.224}]},"mark":{"type":"rule","color":"#808080","strokeWidth":3},"encoding":{"y":{"field":"v","type":"quantitative"}}},
{"data":{"name":"green"},"mark":{"type":"line","color":"#22dd22","strokeWidth":1},"encoding":{"x":{"field":"i","type":"quantitative"},"y":{"field":"v","type":"quantitative"}}},
{"data":{"name":"red"},"mark":{"type":"line","color":"#ff2020","strokeWidth":1},"encoding":{"x":{"field":"i","type":"quantitative"},"y":{"field":"v","type":"quantitative"}}},
{"data":{"name":"blue"},"mark":{"type":"line","color":"#2020ff","strokeWidth":1},"encoding":{"x":{"field":"i","type":"quantitative"},"y":{"field":"v","type":"quantitative"}}},
{"data":{"values":[{"v":107.875}]},"mark":{"type":"point","filled":true,"opacity":1,"color":"#000000","size":841,"shape":"M-1,-0.31L1,-0.31L1,0.31L-1,0.31Z","xOffset":16.5},
 "encoding":{"x":{"datum":419.2},"y":{"field":"v","type":"quantitative"}}},
{"data":{"values":[{"v":107.875}]},"mark":{"type":"text","color":"#ffffff","align":"left","baseline":"middle","fontSize":6.8,"xOffset":4},
 "encoding":{"x":{"datum":419.2},"y":{"field":"v","type":"quantitative"},"text":{"field":"v","type":"quantitative","format":".3f"}}},
{"data":{"name":"levels"},"mark":{"type":"point","filled":true,"opacity":1,"color":"#ff0000","size":841,"shape":"M-1,-0.31L1,-0.31L1,0.31L-1,0.31Z","xOffset":16.5},
 "encoding":{"x":{"datum":419.2},"y":{"field":"v","type":"quantitative"}}},
{"data":{"name":"levels"},"mark":{"type":"text","color":"#ffffff","align":"left","baseline":"middle","fontSize":6.8,"xOffset":4},
 "encoding":{"x":{"datum":419.2},"y":{"field":"v","type":"quantitative"},"text":{"field":"v","type":"quantitative","format":".3f"}}},
{"data":{"values":[{"t":"▼"}]},"mark":{"type":"text","fontSize":6,"align":"center","baseline":"middle","color":"#000000"},"encoding":{"x":{"datum":1.1},"y":{"datum":112.413},"text":{"field":"t"}}},
{"data":{"values":[{"t":"USDJPY,H1  107.805 107.875 107.754 107.755"}]},"mark":{"type":"text","fontSize":6.6,"align":"left","baseline":"middle","color":"#000000"},"encoding":{"x":{"datum":3.6},"y":{"datum":112.413},"text":{"field":"t"}}}
]},
{"layer":[
{"data":{"name":"bars"},"mark":{"type":"bar","color":"#c4c4c4"},
 "encoding":{
  "x":{"field":"i","type":"quantitative"},
  "y":{"field":"m","type":"quantitative","scale":{"domain":[-0.5192,10.337],"nice":false,"zero":false},
   "axis":{"orient":"right","values":[0.4271,0,-0.5192],"labelExpr":"datum.value==0 ? '0.00' : format(datum.value,'.4f')","grid":true,"gridColor":"#d0d0d0","gridDash":[3,3],"tickSize":3,"tickColor":"#000000","domain":false,"labelPadding":2}},
  "y2":{"datum":0},
  "size":{"value":1}}},
{"data":{"name":"signal"},"mark":{"type":"line","color":"#ff0000","strokeDash":[2,2],"strokeWidth":1},"encoding":{"x":{"field":"i","type":"quantitative"},"y":{"field":"s","type":"quantitative"}}},
{"data":{"values":[{"t":"MACD(12,26,9) -0.0565 -0.0207"}]},"mark":{"type":"text","fontSize":6.6,"align":"left","baseline":"middle","color":"#000000"},"encoding":{"x":{"datum":0.3},"y":{"datum":0.308},"text":{"field":"t"}}}
]}
]
}
